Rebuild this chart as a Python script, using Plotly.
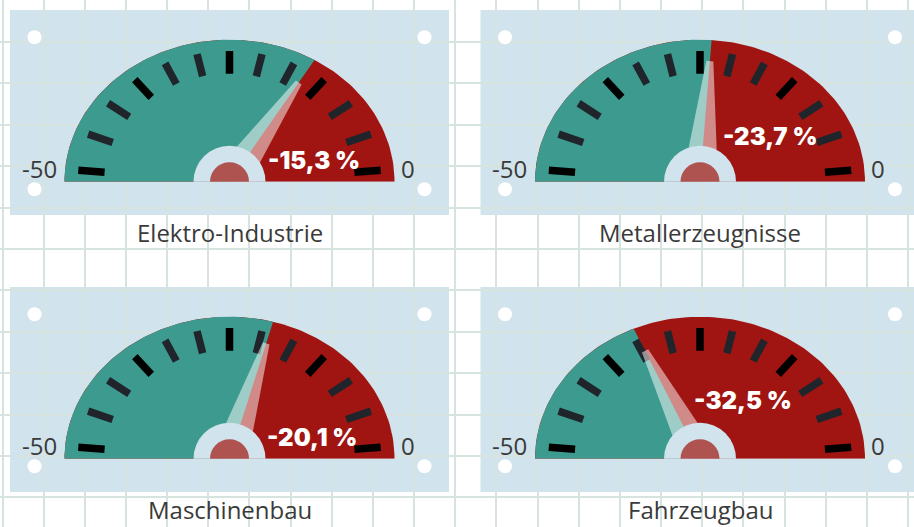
import numpy as np
import plotly.graph_objects as go

# ── data ──────────────────────────────────────────────────────────────
CATEGORIES = ["Elektro-Industrie", "Metallerzeugnisse", "Maschinenbau", "Fahrzeugbau"]
VALUES = [-15.3, -23.7, -20.1, -32.5]
SCALE_MIN, SCALE_MAX = -50, 0
SCALE_LABELS = ["-50", "0"]

# ── layout (pixels) ───────────────────────────────────────────────────
FIG_W, FIG_H = 914, 527
CENTERS = [(229.5, 181.7), (700.0, 181.7), (229.5, 458.7), (700.0, 458.7)]
LABEL_POS = [(84, 21), (70, 45.5), (82, 21), (43, 58)]  # value label rel. to hub, px up
A, B = 165.0, 142.0           # gauge half-ellipse semi-axes
GW, GH = 185.0, 165.0         # half width / height of each gauge subplot
N_TICKS = 13
TICK_EDGE = np.radians(4.3)

# ── colours ───────────────────────────────────────────────────────────
TEAL = "#3d9a8e"
RED = "#a01511"
PANEL = "#d1e3ec"
HUB = "#ae5350"
TICK = "#20252c"
TICK_MAJOR = "#000000"
GRID = "#d6e3de"
TEXT = "#3a3a3a"


def ell_r(phi):
    return A * B / np.sqrt((B * np.cos(phi)) ** 2 + (A * np.sin(phi)) ** 2)


def val_angle(v):
    return np.pi * (SCALE_MAX - v) / (SCALE_MAX - SCALE_MIN)


def sector(phi0, phi1, n=120):
    phi = np.linspace(phi0, phi1, n)
    r = ell_r(phi)
    xs = np.concatenate([[0], r * np.cos(phi), [0]])
    ys = np.concatenate([[0], r * np.sin(phi), [0]])
    return xs, ys


fig = go.Figure()

# background panels + screw dots
dots_x, dots_y = [], []
for cx, cy in CENTERS:
    fig.add_shape(type="rect", xref="x", yref="y", layer="below",
                  x0=cx - 219.5, x1=cx + 219.5, y0=cy - 171.7, y1=cy + 33.3,
                  fillcolor=PANEL, line_width=0)
    for dx in (-195, 195):
        for dy in (-144.5, 7.5):
            dots_x.append(cx + dx)
            dots_y.append(cy + dy)
fig.add_scatter(x=dots_x, y=dots_y, mode="markers", xaxis="x", yaxis="y",
                marker=dict(size=14, color="#ffffff", line_width=0, opacity=1),
                hoverinfo="skip", showlegend=False)

annotations = []
tick_phi = np.linspace(TICK_EDGE, np.pi - TICK_EDGE, N_TICKS)

for i, (cat, val) in enumerate(zip(CATEGORIES, VALUES)):
    k = i + 2
    xa, ya = f"x{k}", f"y{k}"
    phi_v = val_angle(val)

    # red full arc, teal from -50 up to the value
    xs, ys = sector(0, np.pi)
    fig.add_scatter(x=xs, y=ys, xaxis=xa, yaxis=ya, fill="toself", fillcolor=RED,
                    mode="lines", line_width=0, hoverinfo="skip", showlegend=False)
    xs, ys = sector(phi_v, np.pi)
    fig.add_scatter(x=xs, y=ys, xaxis=xa, yaxis=ya, fill="toself", fillcolor=TEAL,
                    mode="lines", line_width=0, hoverinfo="skip", showlegend=False)

    # tick marks, every third one black
    for major in (False, True):
        tx, ty = [], []
        for j, p in enumerate(tick_phi):
            if (j % 3 == 0) != major:
                continue
            r = ell_r(p)
            tx += [0.76 * r * np.cos(p), 0.92 * r * np.cos(p), None]
            ty += [0.76 * r * np.sin(p), 0.92 * r * np.sin(p), None]
        fig.add_scatter(x=tx, y=ty, xaxis=xa, yaxis=ya, mode="lines",
                        line=dict(color=TICK_MAJOR if major else TICK, width=7.5),
                        hoverinfo="skip", showlegend=False)

    # needle
    u = np.array([np.cos(phi_v), np.sin(phi_v)])
    nv = np.array([-np.sin(phi_v), np.cos(phi_v)])
    pts = [18 * nv, 121 * u + 3.5 * nv, 121 * u - 3.5 * nv, -18 * nv, 18 * nv]
    fig.add_scatter(x=[p[0] for p in pts], y=[p[1] for p in pts], xaxis=xa, yaxis=ya,
                    fill="toself", fillcolor="rgba(255,255,255,0.5)", mode="lines",
                    line_width=0, hoverinfo="skip", showlegend=False)

    # hub
    fig.add_scatter(x=[0, 0], y=[0, 0], xaxis=xa, yaxis=ya, mode="markers",
                    marker=dict(size=[72, 39], color=[PANEL, HUB], line_width=0,
                                opacity=1),
                    hoverinfo="skip", showlegend=False)

    cx, cy = CENTERS[i]
    fig.update_layout(**{
        f"xaxis{k}": dict(domain=[(cx - GW) / FIG_W, (cx + GW) / FIG_W],
                          range=[-GW, GW], visible=False, anchor=ya, fixedrange=True),
        f"yaxis{k}": dict(domain=[(FIG_H - cy) / FIG_H, (FIG_H - cy + GH) / FIG_H],
                          range=[0, GH], visible=False, anchor=xa, fixedrange=True),
    })

    lx, ly = LABEL_POS[i]
    label = f"{val:.1f}".replace(".", ",") + " %"
    annotations += [
        dict(text=label, x=lx, y=ly, xref=xa, yref=ya, showarrow=False,
             xanchor="center", yanchor="middle",
             font=dict(family="Inter", size=24, color="#ffffff", weight=900)),
        dict(text=SCALE_LABELS[0], x=-171, y=13, xref=xa, yref=ya, showarrow=False,
             xanchor="right", yanchor="middle",
             font=dict(family="Open Sans", size=24, color=TEXT)),
        dict(text=SCALE_LABELS[1], x=169, y=13, xref=xa, yref=ya, showarrow=False,
             xanchor="left", yanchor="middle",
             font=dict(family="Open Sans", size=24, color=TEXT)),
        dict(text=cat, x=cx, y=cy + 51, xref="x", yref="y", showarrow=False,
             xanchor="center", yanchor="middle",
             font=dict(family="Open Sans", size=24, color=TEXT)),
    ]

fig.update_layout(
    width=FIG_W, height=FIG_H, autosize=False,
    margin=dict(l=0, r=0, t=0, b=0),
    paper_bgcolor="#ffffff", plot_bgcolor="rgba(0,0,0,0)",
    showlegend=False, annotations=annotations,
    xaxis=dict(domain=[0, 1], range=[0, FIG_W], tick0=2.5, dtick=41.16,
               showgrid=True, gridcolor=GRID, gridwidth=2, zeroline=False,
               showticklabels=False, ticks="", showline=False, fixedrange=True),
    yaxis=dict(domain=[0, 1], range=[FIG_H, 0], tick0=0.6, dtick=41.4,
               showgrid=True, gridcolor=GRID, gridwidth=2, zeroline=False,
               showticklabels=False, ticks="", showline=False, fixedrange=True),
)

fig.write_html("out.html", config={"displayModeBar": False},
               post_script="document.body.style.margin='0';"
                           "document.body.style.overflow='hidden';")
